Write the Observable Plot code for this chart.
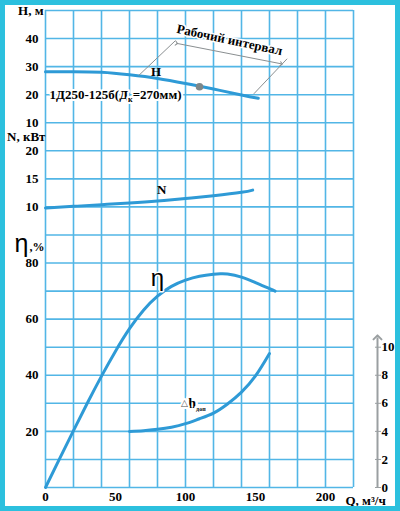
<!DOCTYPE html>
<html><head><meta charset="utf-8">
<script src="https://cdn.jsdelivr.net/npm/d3@7"></script>
<script src="https://cdn.jsdelivr.net/npm/@observablehq/plot@0.6"></script>
<style>
body{margin:0;background:#fff}
#wrap{position:relative;width:400px;height:511px;overflow:hidden;background:#fff}
#border{position:absolute;left:0;top:0;width:400px;height:511px;box-sizing:border-box;border:5px solid #2cc0de;pointer-events:none}
</style></head><body><div id="wrap"><div id="border"></div></div>
<script>
// ---- data ----
const qH  = [0, 20, 40, 60, 80, 100, 120, 140, 152];
const H   = [28.2, 28.2, 28.0, 27.1, 25.8, 24.0, 22.0, 19.9, 18.7];
const qN  = [0, 20, 40, 60, 80, 100, 120, 140, 148];
const N   = [9.8, 10.1, 10.4, 10.7, 11.05, 11.5, 12.0, 12.6, 13.0];
const qEta = [0, 10, 20, 30, 40, 50, 60, 70, 80, 90, 100, 110, 120, 125, 130, 140, 150, 160, 164];
const eta  = [0, 10.2, 20.3, 30.2, 39.7, 48.6, 56.6, 63.2, 68.2, 71.7, 73.9, 75.3, 76.0, 76.2, 76.1, 75.0, 73.0, 70.9, 70.0];
const qDh = [60, 70, 80, 90, 100, 110, 120, 130, 140, 150, 160];
const dh  = [4.0, 4.05, 4.15, 4.3, 4.55, 4.9, 5.3, 5.95, 6.8, 7.95, 9.55];
const dutyPoint = {q: 110, h: 22.8};
// working interval annotation (Q, H)
const workExt = [
  {q1: 66.5, h1: 26.8, q2: 92.9, h2: 39.3},
  {q1: 148.8, h1: 20.3, q2: 172.6, h2: 32.8}
];
const workArrow = {q1: 93.6, h1: 38.3, q2: 168.4, h2: 31.0};
// tick labels
const qTicks = [0, 50, 100, 150, 200];
const hTicks = [10, 20, 30, 40];
const nTicks = [10, 15, 20];
const etaTicks = [20, 40, 60, 80];
const dhTicks = [0, 2, 4, 6, 8, 10];
const dhAxisTop = 10.7;

// ---- mapping every quantity onto the common grid (η units) ----
const yH = h => 120 + h;
const yN = n => 80 + 2 * n;
const yEta = e => e;
const yDh = d => 5 * d;

const lineH = qH.map((q, i) => ({q, y: yH(H[i])}));
const lineN = qN.map((q, i) => ({q, y: yN(N[i])}));
const lineEta = qEta.map((q, i) => ({q, y: yEta(eta[i])}));
const lineDh = qDh.map((q, i) => ({q, y: yDh(dh[i])}));

const leftTicks = new Map();
etaTicks.forEach(v => leftTicks.set(yEta(v), String(v)));
nTicks.forEach(v => leftTicks.set(yN(v), String(v)));
hTicks.forEach(v => leftTicks.set(yH(v), String(v)));

const blue = "#2e9ad6", gridC = "#52b6e6", gray = "#8a8f91";
const serif = "Liberation Serif";
const txt = {fontFamily: serif, fontWeight: "bold", fontSize: 13, fill: "black"};

const plot = Plot.plot({
  width: 400, height: 511,
  marginLeft: 45, marginRight: 47, marginTop: 10, marginBottom: 24,
  x: {domain: [0, 220]},
  y: {domain: [0, 170]},
  style: {fontFamily: serif, fontSize: "13px", background: "transparent"},
  marks: [
    Plot.gridX({ticks: d3.range(0, 221, 20), stroke: gridC, strokeOpacity: 1, strokeWidth: 1.6}),
    Plot.gridY({ticks: d3.range(0, 171, 10), stroke: gridC, strokeOpacity: 1, strokeWidth: 1.6}),
    Plot.axisY({ticks: [...leftTicks.keys()], tickFormat: d => leftTicks.get(d), tickSize: 0, tickPadding: 7,
      fontSize: 13, fontFamily: serif, fontWeight: "bold", label: null}),
    Plot.axisX({ticks: qTicks, tickSize: 0, tickPadding: 4, fontSize: 13, fontFamily: serif, fontWeight: "bold", label: null}),
    // right Δh axis
    Plot.link([{x1: 220, y1: 0, x2: 220, y2: yDh(dhAxisTop)}], {x1: "x1", y1: "y1", x2: "x2", y2: "y2",
      dx: 24, stroke: "#9a9fa1", strokeWidth: 2, markerEnd: "arrow"}),
    Plot.axisY({anchor: "right", ticks: dhTicks.map(yDh), tickFormat: d => String(d / 5), tickSize: 6, tickPadding: 1,
      dx: 21, stroke: "#9a9fa1", fill: "black", fontSize: 13, fontFamily: serif, fontWeight: "bold", label: null}),
    // curves
    Plot.line(lineH, {x: "q", y: "y", stroke: blue, strokeWidth: 3, curve: "natural"}),
    Plot.line(lineN, {x: "q", y: "y", stroke: blue, strokeWidth: 3, curve: "natural"}),
    Plot.line(lineEta, {x: "q", y: "y", stroke: blue, strokeWidth: 3, curve: "natural"}),
    Plot.line(lineDh, {x: "q", y: "y", stroke: blue, strokeWidth: 3, curve: "natural"}),
    // working interval
    Plot.link(workExt, {x1: "q1", y1: d => yH(d.h1), x2: "q2", y2: d => yH(d.h2), stroke: gray, strokeWidth: 1}),
    Plot.link([workArrow], {x1: "q1", y1: d => yH(d.h1), x2: "q2", y2: d => yH(d.h2), stroke: gray, strokeWidth: 1,
      markerStart: "arrow", markerEnd: "arrow"}),
    Plot.text(["Рабочий интервал"], {x: 131.4, y: yH(39.5), text: d => d, rotate: 12, ...txt, fontSize: 13,
      stroke: "white", strokeWidth: 3}),
    Plot.dot([dutyPoint], {x: "q", y: d => yH(d.h), r: 3.8, fill: "#7e8789", stroke: "none"}),
    // curve labels
    Plot.text(["H"], {x: 79, y: yH(28.2), text: d => d, ...txt}),
    Plot.text(["N"], {x: 83, y: yN(13.1), text: d => d, ...txt}),
    Plot.text(["η"], {x: 80, y: 74.5, text: d => d, fontFamily: "Liberation Sans", fontWeight: "normal", fontSize: 24, fill: "black",
      stroke: "white", strokeWidth: 3}),
    Plot.text(["1Д250-125б(Дк=270мм)"], {x: 2.9, y: yH(19.9), text: d => d, textAnchor: "start", ...txt,
      stroke: "white", strokeWidth: 4}),
    Plot.text(["hдоп"], {x: 102, y: yDh(6.0), text: d => d, textAnchor: "start", ...txt, fontSize: 14,
      stroke: "white", strokeWidth: 5}),
    Plot.text(["△"], {x: 101.8, y: yDh(6.0), text: d => d, textAnchor: "end", fontFamily: "DejaVu Sans", fontWeight: "normal", fontSize: 9,
      fill: "#555", stroke: "white", strokeWidth: 4}),
    // axis titles
    Plot.text(["H, м"], {x: 0, y: 170, text: d => d, textAnchor: "end", dx: -2, ...txt}),
    Plot.text(["N, кВт"], {x: 0, y: 124.8, text: d => d, textAnchor: "end", dx: 0, ...txt}),
    Plot.text(["η"], {x: 0, y: 86.4, text: d => d, textAnchor: "end", dx: -17, dy: -1, fontFamily: "Liberation Sans", fontWeight: "normal", fontSize: 25, fill: "black"}),
    Plot.text([",%"], {x: 0, y: 86.4, text: d => d, textAnchor: "end", dx: -1, dy: 2, ...txt, fontSize: 12}),
    Plot.text(["Q, м³/ч"], {x: 220, y: 0, text: d => d, textAnchor: "start", dx: -8, dy: 13, ...txt})
  ]
});

// subscripts
plot.querySelectorAll("text").forEach(t => {
  const s = t.textContent;
  const NS = "http://www.w3.org/2000/svg";
  const span = (str, attrs) => {
    const e = document.createElementNS(NS, "tspan");
    e.textContent = str;
    for (const k in attrs) e.setAttribute(k, attrs[k]);
    t.appendChild(e);
  };
  if (s === "1Д250-125б(Дк=270мм)") {
    t.textContent = "";
    span("1Д250-125б(Д", {});
    span("к", {"font-size": 8, dy: 3});
    span("=270мм)", {dy: -3});
  } else if (s === "hдоп") {
    t.textContent = "";
    span("h", {});
    span("доп", {"font-size": 6, dy: 3});
  }
});
document.getElementById("wrap").prepend(plot);
</script>
</body></html>
